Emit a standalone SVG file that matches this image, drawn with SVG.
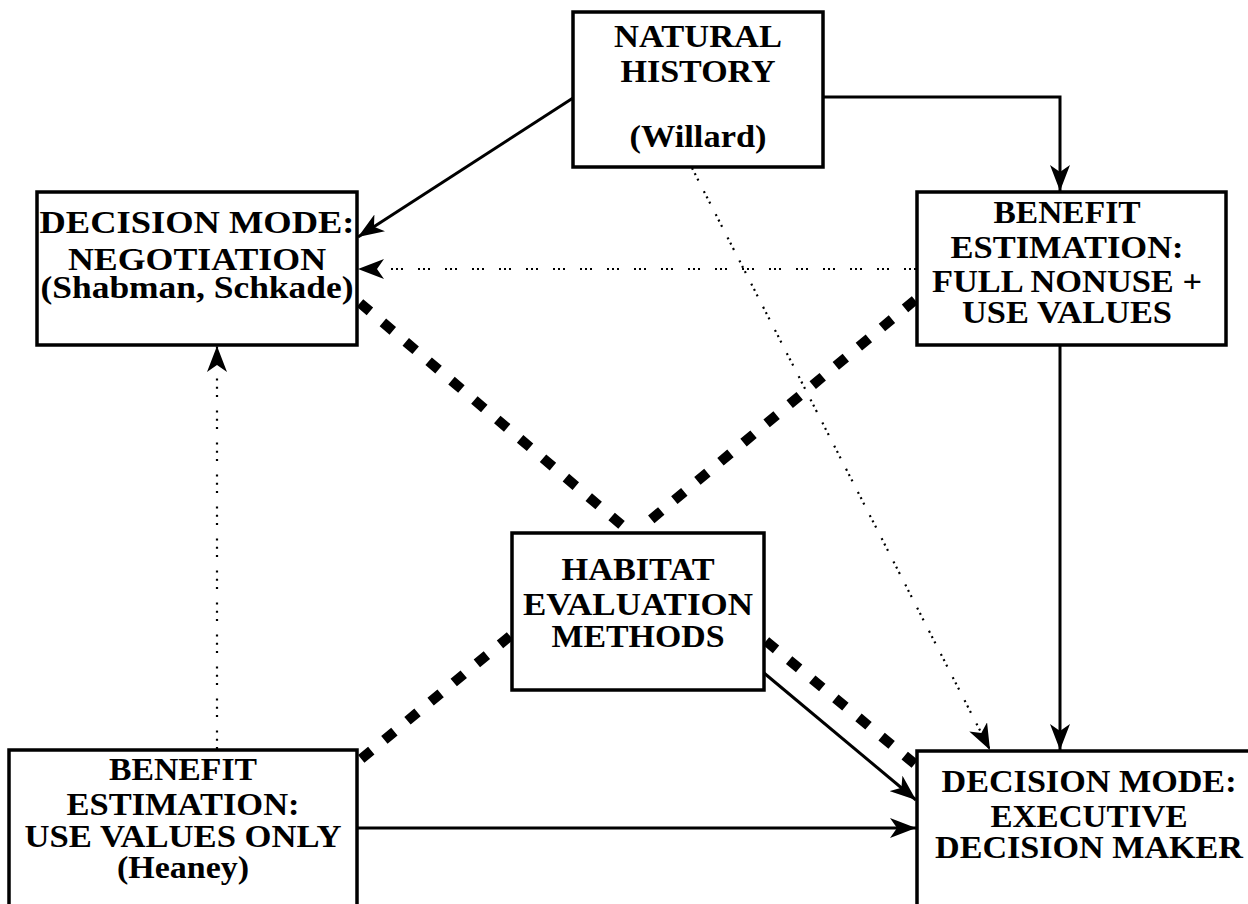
<svg xmlns="http://www.w3.org/2000/svg" width="1248" height="904" viewBox="0 0 1248 904">
<style>
.box{fill:#fff;stroke:#000;stroke-width:3.5}
.t{font-family:"Liberation Serif","Times New Roman",serif;font-weight:bold;font-size:32px;text-anchor:middle;fill:#000}
.solid{fill:none;stroke:#000;stroke-width:3}
.dot{fill:none;stroke:#000;stroke-width:2.2}
.thick{fill:none;stroke:#000;stroke-width:10;stroke-dasharray:13,17}
</style>
<defs>
<marker id="arr" viewBox="0 0 26 20" refX="26" refY="10" markerWidth="26" markerHeight="20" markerUnits="userSpaceOnUse" orient="auto">
<path d="M0,0 L26,10 L0,20 L7,10 Z" fill="#000"/>
</marker>
</defs>
<rect width="1248" height="904" fill="#fff"/>
<g id="connectors">
<line class="solid" x1="573" y1="98" x2="358" y2="237" marker-end="url(#arr)"/>
<polyline class="solid" points="823,97 1060,97 1060,191" marker-end="url(#arr)"/>
<line class="dot" x1="692" y1="168" x2="990" y2="750" stroke-dasharray="2,4,2,4,2,12" marker-end="url(#arr)"/>
<line class="dot" x1="916" y1="269" x2="358" y2="269" stroke-dasharray="2,3,2,3,2,15" marker-end="url(#arr)"/>
<line class="solid" x1="1060" y1="346" x2="1060" y2="750" marker-end="url(#arr)"/>
<line class="dot" x1="217" y1="749" x2="217" y2="346" stroke-dasharray="2,6.3,2,6.3,2,13.4" marker-end="url(#arr)"/>
<line class="thick" x1="360" y1="303" x2="624" y2="527"/>
<line class="thick" x1="915" y1="300" x2="642" y2="527"/>
<line class="thick" x1="510" y1="636" x2="360" y2="760"/>
<line class="thick" x1="766" y1="641" x2="916" y2="765"/>
<line class="solid" x1="764" y1="673" x2="916" y2="800" marker-end="url(#arr)"/>
<line class="solid" x1="357" y1="828" x2="916" y2="828" marker-end="url(#arr)"/>
</g>
<g id="natural-history">
<rect class="box" x="573" y="12" width="250" height="155"/>
<text class="t" x="698" y="47" textLength="168" lengthAdjust="spacingAndGlyphs">NATURAL</text>
<text class="t" x="698" y="82" textLength="155" lengthAdjust="spacingAndGlyphs">HISTORY</text>
<text class="t" x="698" y="147" textLength="137" lengthAdjust="spacingAndGlyphs">(Willard)</text>
</g>
<g id="negotiation">
<rect class="box" x="37" y="192" width="320" height="153"/>
<text class="t" x="197" y="233" textLength="315" lengthAdjust="spacingAndGlyphs">DECISION MODE:</text>
<text class="t" x="197" y="270" textLength="258" lengthAdjust="spacingAndGlyphs">NEGOTIATION</text>
<text class="t" x="197" y="298" textLength="313" lengthAdjust="spacingAndGlyphs">(Shabman, Schkade)</text>
</g>
<g id="benefit-full">
<rect class="box" x="917" y="192" width="309" height="153"/>
<text class="t" x="1067" y="223" textLength="147" lengthAdjust="spacingAndGlyphs">BENEFIT</text>
<text class="t" x="1067" y="258" textLength="233" lengthAdjust="spacingAndGlyphs">ESTIMATION:</text>
<text class="t" x="1067" y="292" textLength="270" lengthAdjust="spacingAndGlyphs">FULL NONUSE +</text>
<text class="t" x="1067" y="323" textLength="210" lengthAdjust="spacingAndGlyphs">USE VALUES</text>
</g>
<g id="habitat">
<rect class="box" x="512" y="533" width="252" height="157"/>
<text class="t" x="638" y="580" textLength="153" lengthAdjust="spacingAndGlyphs">HABITAT</text>
<text class="t" x="638" y="615" textLength="230" lengthAdjust="spacingAndGlyphs">EVALUATION</text>
<text class="t" x="638" y="647" textLength="173" lengthAdjust="spacingAndGlyphs">METHODS</text>
</g>
<g id="benefit-use">
<rect class="box" x="9" y="750" width="348" height="180"/>
<text class="t" x="183" y="780" textLength="148" lengthAdjust="spacingAndGlyphs">BENEFIT</text>
<text class="t" x="183" y="815" textLength="233" lengthAdjust="spacingAndGlyphs">ESTIMATION:</text>
<text class="t" x="183" y="847" textLength="317" lengthAdjust="spacingAndGlyphs">USE VALUES ONLY</text>
<text class="t" x="183" y="878" textLength="132" lengthAdjust="spacingAndGlyphs">(Heaney)</text>
</g>
<g id="executive">
<rect class="box" x="917" y="751" width="360" height="180"/>
<text class="t" x="1089" y="792" textLength="295" lengthAdjust="spacingAndGlyphs">DECISION MODE:</text>
<text class="t" x="1089" y="827" textLength="197" lengthAdjust="spacingAndGlyphs">EXECUTIVE</text>
<text class="t" x="1089" y="858" textLength="308" lengthAdjust="spacingAndGlyphs">DECISION MAKER</text>
</g>
</svg>
